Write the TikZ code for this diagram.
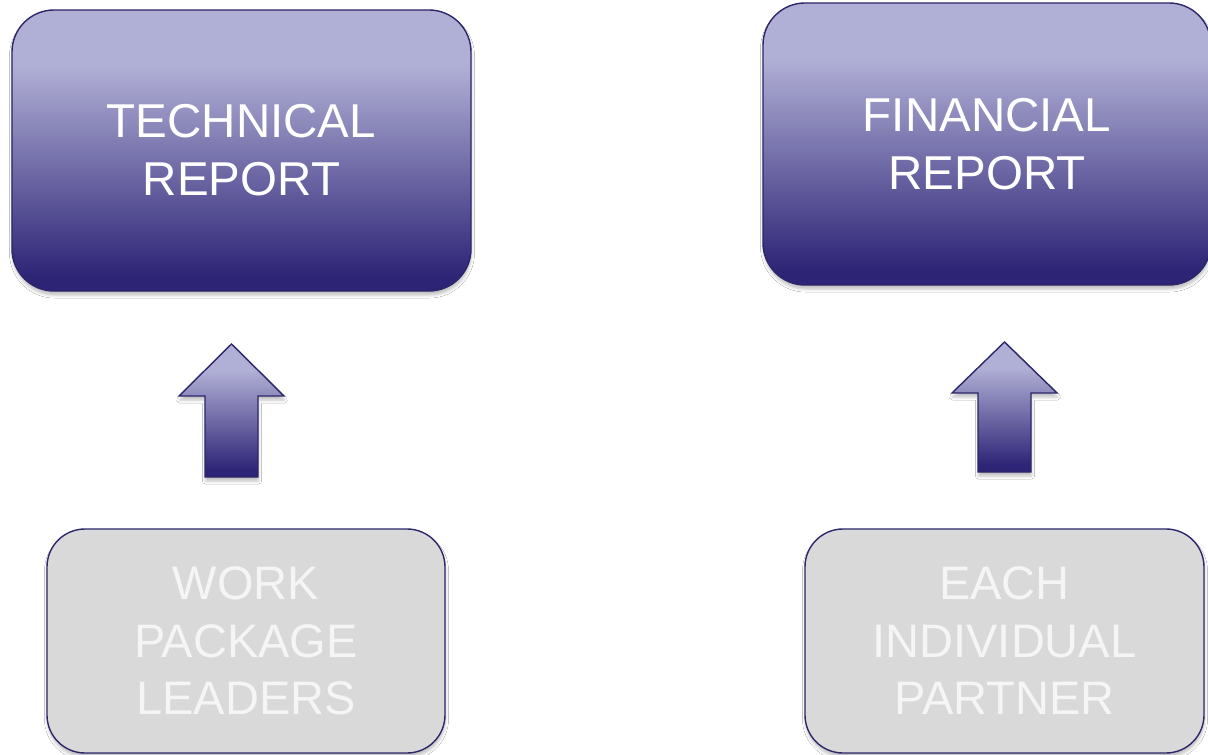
\documentclass[tikz,border=0pt]{standalone}
\usepackage{fontspec}
\setmainfont{Liberation Sans}
\usetikzlibrary{shadows.blur}
\definecolor{lav}{RGB}{176,175,213}
\definecolor{navy}{RGB}{45,36,118}
\definecolor{edgec}{RGB}{44,38,106}
\definecolor{boxgray}{RGB}{217,217,217}
\definecolor{txtgray}{RGB}{245,245,245}
\pgfdeclareverticalshading{repgrad}{100bp}{color(0bp)=(navy); color(27.5bp)=(navy); color(65bp)=(lav); color(100bp)=(lav)}
\tikzset{
  softshadow/.style={blur shadow={shadow xshift=0.5bp, shadow yshift=-4bp, shadow blur radius=3bp, shadow opacity=25}},
  repbox/.style={draw=edgec, line width=1.4bp, shading=repgrad, rounded corners=42bp,
    inner sep=0pt, text=white, align=center, softshadow,
    font=\fontsize{47.5bp}{58bp}\selectfont},
  srcbox/.style={draw=edgec, line width=1.4bp, fill=boxgray, rounded corners=38bp,
    inner sep=0pt, text=txtgray, align=center, softshadow,
    font=\fontsize{47bp}{57.5bp}\selectfont},
  blockarrow/.style={draw=edgec, line width=1.4bp, shading=repgrad, softshadow}
}
\begin{document}
\begin{tikzpicture}[x=1bp, y=-1bp]
\useasboundingbox (0,0) rectangle (1208,755);
\fill[white] (0,0) rectangle (1208,755);
% report boxes
\node[repbox, minimum width=459bp, minimum height=281bp] (tech) at (241.5,150.5) {TECHNICAL\\REPORT};
\node[repbox, minimum width=448bp, minimum height=282bp] (fin) at (987,144) {FINANCIAL\\REPORT};
% source boxes
\node[srcbox, minimum width=398bp, minimum height=224bp] (wp) at (246,641) {WORK\\PACKAGE\\LEADERS};
\node[srcbox, minimum width=399bp, minimum height=224bp] (each) at (1004.5,641) {EACH\\INDIVIDUAL\\PARTNER};
% block arrows
\coordinate (arrL) at (231.5,477);
\coordinate (arrR) at (1004.5,472);
\draw[blockarrow] (arrL) ++(-26.5,0) -- ++(0,-81) -- ++(-26,0) -- ++(52.5,-52) -- ++(52.5,52) -- ++(-26,0) -- ++(0,81) -- cycle;
\draw[blockarrow] (arrR) ++(-26.5,0) -- ++(0,-79) -- ++(-26,0) -- ++(52.5,-51) -- ++(52.5,51) -- ++(-26,0) -- ++(0,79) -- cycle;
\end{tikzpicture}
\end{document}
